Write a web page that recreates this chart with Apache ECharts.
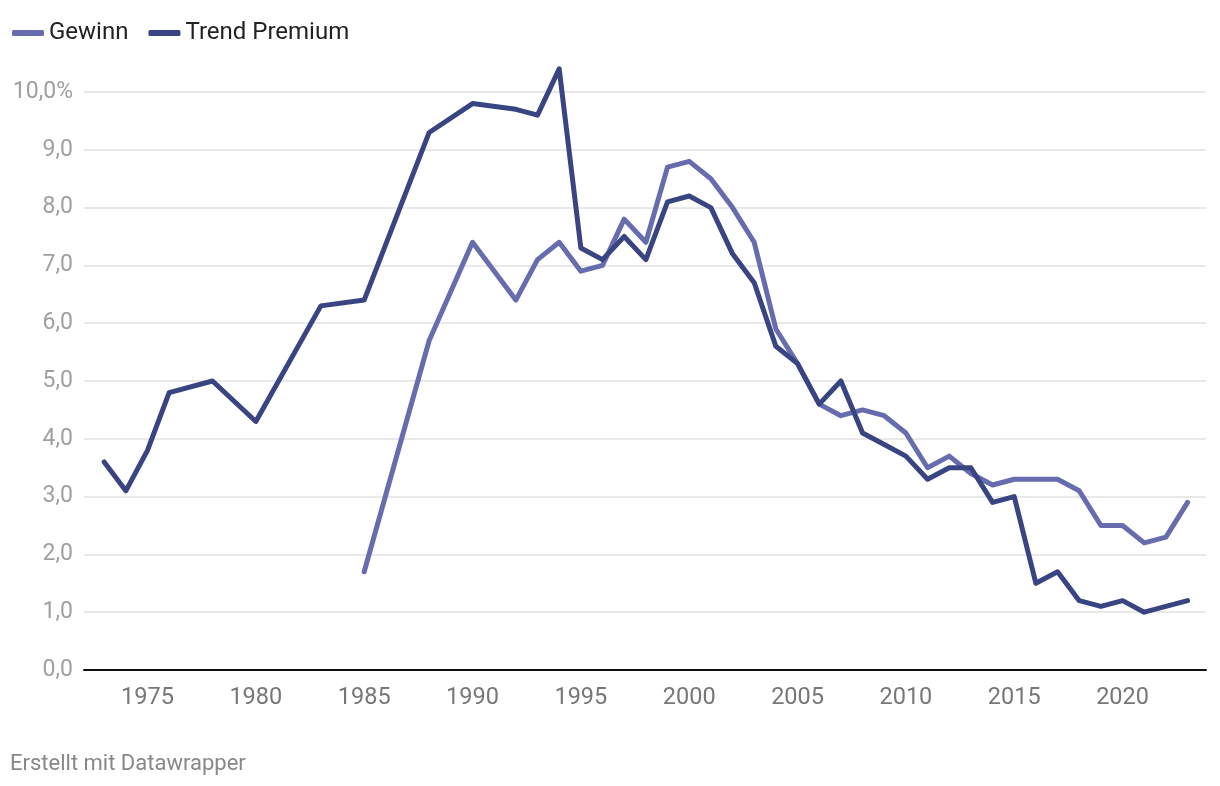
<!DOCTYPE html>
<html>
<head>
<meta charset="utf-8">
<script src="https://cdn.jsdelivr.net/npm/echarts@6/dist/echarts.min.js"></script>
<style>
html,body{margin:0;padding:0;background:#fff;}
#chart{width:1220px;height:786px;}
</style>
</head>
<body>
<div id="chart"></div>
<script>
const trendYears = [1973,1974,1975,1976,1978,1980,1983,1985,1988,1990,1992,1993,1994,1995,1996,1997,1998,1999,2000,2001,2002,2003,2004,2005,2006,2007,2008,2009,2010,2011,2012,2013,2014,2015,2016,2017,2018,2019,2020,2021,2022,2023];
const trendValues = [3.6,3.1,3.8,4.8,5.0,4.3,6.3,6.4,9.3,9.8,9.7,9.6,10.4,7.3,7.1,7.5,7.1,8.1,8.2,8.0,7.2,6.7,5.6,5.3,4.6,5.0,4.1,3.9,3.7,3.3,3.5,3.5,2.9,3.0,1.5,1.7,1.2,1.1,1.2,1.0,1.1,1.2];
const gewinnYears = [1985,1988,1990,1992,1993,1994,1995,1996,1997,1998,1999,2000,2001,2002,2003,2004,2005,2006,2007,2008,2009,2010,2011,2012,2013,2014,2015,2016,2017,2018,2019,2020,2021,2022,2023];
const gewinnValues = [1.7,5.7,7.4,6.4,7.1,7.4,6.9,7.0,7.8,7.4,8.7,8.8,8.5,8.0,7.4,5.9,5.3,4.6,4.4,4.5,4.4,4.1,3.5,3.7,3.4,3.2,3.3,3.3,3.3,3.1,2.5,2.5,2.2,2.3,2.9];
const xTicks = [1975,1980,1985,1990,1995,2000,2005,2010,2015,2020];
const yTicks = [0,1,2,3,4,5,6,7,8,9,10];

const zip = (xs, ys) => xs.map((x, i) => [x, ys[i]]);
const chart = echarts.init(document.getElementById('chart'));
chart.setOption({
  animation: false,
  textStyle: { fontFamily: 'Roboto' },
  legend: {
    left: 7, top: 16,
    icon: 'roundRect',
    itemWidth: 32, itemHeight: 6,
    itemGap: 20,
    textStyle: { fontSize: 24, color: '#222', fontFamily: 'Roboto' },
    data: ['Gewinn', 'Trend Premium']
  },
  grid: { left: 84, right: 14, top: 92, bottom: 116 },
  xAxis: {
    type: 'value',
    min: 1972.07, max: 2023.85,
    axisLine: { show: true, lineStyle: { color: '#111', width: 2 } },
    axisTick: { show: false },
    splitLine: { show: false },
    axisLabel: {
      customValues: xTicks,
      color: '#777', fontSize: 23.5, margin: 16,
      formatter: v => String(v)
    }
  },
  yAxis: {
    type: 'value',
    min: 0, max: 10, interval: 1,
    axisLine: { show: false },
    axisTick: { show: false },
    splitLine: { lineStyle: { color: '#e2e2e2', width: 1.5 } },
    axisLabel: {
      customValues: yTicks,
      color: '#a0a0a0', fontSize: 23, margin: 11,
      formatter: v => v === 10 ? '10,0%' : v.toFixed(1).replace('.', ',')
    }
  },
  series: [
    {
      name: 'Gewinn', type: 'line', data: zip(gewinnYears, gewinnValues),
      showSymbol: false, clip: false,
      lineStyle: { color: '#666cae', width: 5, cap: 'round', join: 'round' },
      itemStyle: { color: '#666cae' }, z: 2
    },
    {
      name: 'Trend Premium', type: 'line', data: zip(trendYears, trendValues),
      showSymbol: false, clip: false,
      lineStyle: { color: '#394582', width: 5, cap: 'round', join: 'round' },
      itemStyle: { color: '#394582' }, z: 3
    }
  ],
  graphic: [{
    type: 'text', left: 10, top: 753,
    style: { text: 'Erstellt mit Datawrapper', fontSize: 22, fill: '#888', fontFamily: 'Roboto' }
  }]
});
</script>
</body>
</html>
